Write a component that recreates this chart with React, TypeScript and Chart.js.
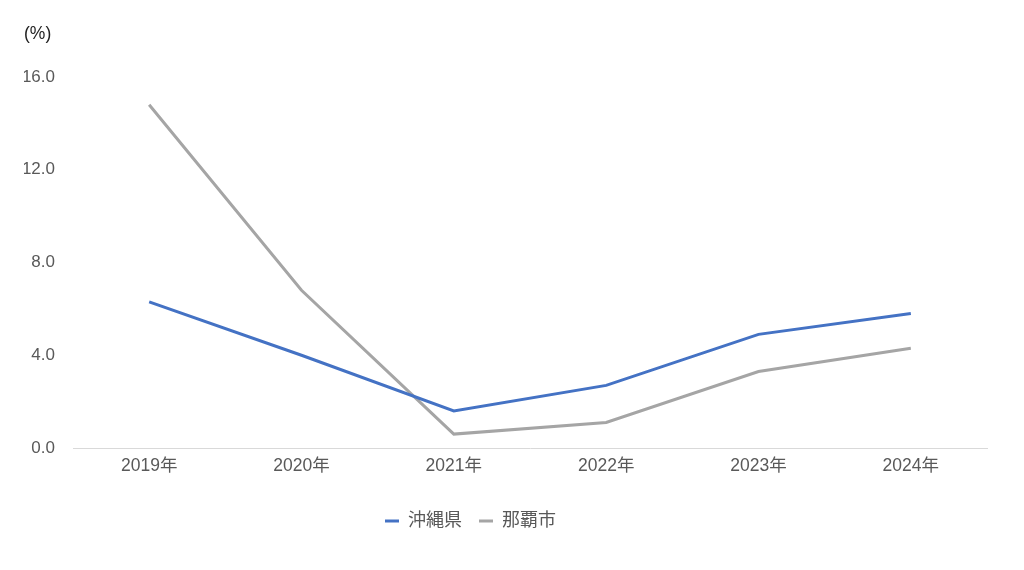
import React, { useEffect, useRef } from "react";
import { Chart, registerables } from "chart.js";

Chart.register(...registerables);

const categories = ["2019年", "2020年", "2021年", "2022年", "2023年", "2024年"];
const okinawa = [6.3, 4.0, 1.6, 2.7, 4.9, 5.8];
const naha = [14.8, 6.8, 0.6, 1.1, 3.3, 4.3];
const seriesNames = ["沖縄県", "那覇市"];
const yTicks = [0, 4, 8, 12, 16];

const FONT = "'Helvetica Neue', Helvetica, Arial, 'Liberation Sans', 'Noto Sans CJK JP', sans-serif";
const TEXT = "#595959";

const legendShift = {
  id: "legendShift",
  afterLayout(chart: any) {
    const lg = chart.legend;
    if (lg) {
      lg.left -= 35;
      lg.right -= 35;
    }
  },
};

export default function App() {
  const ref = useRef<HTMLCanvasElement | null>(null);

  useEffect(() => {
    if (!ref.current) return;
    const chart = new Chart(ref.current, {
      type: "line",
      data: {
        labels: categories,
        datasets: [
          {
            label: seriesNames[0],
            data: okinawa,
            borderColor: "#4472C4",
            backgroundColor: "#4472C4",
            borderWidth: 3,
            pointRadius: 0,
            tension: 0,
          },
          {
            label: seriesNames[1],
            data: naha,
            borderColor: "#A5A5A5",
            backgroundColor: "#A5A5A5",
            borderWidth: 3,
            pointRadius: 0,
            tension: 0,
          },
        ],
      },
      options: {
        animation: false,
        responsive: false,
        layout: { padding: { left: 24, right: 37, top: 24, bottom: 30 } },
        plugins: {
          title: {
            display: true,
            text: "(%)",
            align: "start",
            color: "#222",
            font: { family: FONT, size: 17.5, weight: "normal" },
            padding: { top: 0, bottom: 32 },
          },
          legend: {
            position: "bottom",
            labels: {
              usePointStyle: true,
              pointStyle: "line",
              pointStyleWidth: 14,
              boxHeight: 10,
              padding: 17,
              color: TEXT,
              font: { family: FONT, size: 18 },
            },
          },
          tooltip: { enabled: false },
        },
        scales: {
          x: {
            offset: true,
            grid: { display: false, drawTicks: false },
            border: { display: true, color: "#d9d9d9", width: 1 },
            ticks: {
              padding: 8,
              color: TEXT,
              font: { family: FONT, size: 17.5 },
            },
            afterFit: (scale: any) => {
              scale.height = 47;
            },
          },
          y: {
            min: 0,
            max: 16,
            afterBuildTicks: (scale: any) => {
              scale.ticks = yTicks.map((v) => ({ value: v }));
            },
            afterFit: (scale: any) => {
              scale.width = 49;
            },
            grid: { display: false, drawTicks: false },
            border: { display: false },
            ticks: {
              padding: 18,
              color: TEXT,
              font: { family: FONT, size: 17 },
              callback: (v: any) => Number(v).toFixed(1),
            },
          },
        },
      },
      plugins: [legendShift],
    });
    return () => chart.destroy();
  }, []);

  return (
    <div style={{ position: "fixed", left: 0, top: 0, width: 1024, height: 570, background: "#fff" }}>
      <canvas ref={ref} width={1024} height={570} />
    </div>
  );
}
